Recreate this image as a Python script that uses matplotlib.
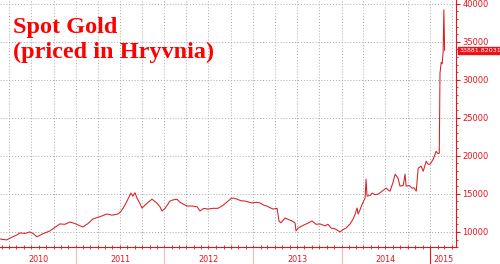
import matplotlib
matplotlib.use("Agg")
import matplotlib.pyplot as plt
import matplotlib.dates as mdates
import matplotlib.transforms as mtrans
import pandas as pd

dates = [
    "2010-02-22", "2010-03-06", "2010-03-22", "2010-04-12", "2010-05-03", "2010-05-15",
    "2010-06-05", "2010-06-25", "2010-07-12", "2010-07-24", "2010-08-14", "2010-09-16",
    "2010-10-07", "2010-10-27", "2010-11-17", "2010-12-08", "2010-12-28", "2011-01-18",
    "2011-01-30", "2011-02-20", "2011-03-12", "2011-04-10", "2011-05-09", "2011-05-30",
    "2011-06-24", "2011-07-06", "2011-07-15", "2011-07-27", "2011-08-08", "2011-08-16",
    "2011-08-24", "2011-09-02", "2011-09-10", "2011-09-18", "2011-10-01", "2011-10-13",
    "2011-10-26", "2011-11-11", "2011-11-23", "2011-12-01", "2011-12-14", "2011-12-22",
    "2012-01-04", "2012-01-24", "2012-02-05", "2012-02-22", "2012-03-05", "2012-03-22",
    "2012-04-03", "2012-04-24", "2012-05-15", "2012-05-27", "2012-06-12", "2012-06-29",
    "2012-07-20", "2012-08-09", "2012-08-30", "2012-09-20", "2012-10-02", "2012-10-14",
    "2012-10-27", "2012-11-12", "2012-11-29", "2012-12-15", "2012-12-27", "2013-01-13",
    "2013-01-30", "2013-02-15", "2013-02-27", "2013-03-12", "2013-03-24", "2013-04-10",
    "2013-04-18", "2013-04-26", "2013-05-13", "2013-05-29", "2013-06-11", "2013-06-23",
    "2013-06-27", "2013-07-06", "2013-07-22", "2013-08-12", "2013-09-01", "2013-09-18",
    "2013-10-04", "2013-10-25", "2013-11-06", "2013-11-19", "2013-12-05", "2013-12-18",
    "2013-12-26", "2014-01-07", "2014-01-20", "2014-02-05", "2014-02-18", "2014-02-26",
    "2014-03-06", "2014-03-10", "2014-03-18", "2014-03-27", "2014-04-08", "2014-04-12",
    "2014-04-16", "2014-04-29", "2014-05-07", "2014-05-19", "2014-06-01", "2014-06-17",
    "2014-07-04", "2014-07-12", "2014-07-20", "2014-08-01", "2014-08-10", "2014-08-22",
    "2014-08-30", "2014-09-12", "2014-09-20", "2014-09-24", "2014-10-07", "2014-10-19",
    "2014-10-27", "2014-11-05", "2014-11-13", "2014-11-25", "2014-12-04", "2014-12-16",
    "2014-12-24", "2015-01-01", "2015-01-14", "2015-01-26", "2015-02-03", "2015-02-08",
    "2015-02-11", "2015-02-16", "2015-02-20", "2015-02-24", "2015-02-27", "2015-03-02",
]
prices = [
    9080, 9000, 8950, 9300, 9600, 9870,
    9800, 10000, 9700, 9350, 9700, 10130,
    10600, 11050, 11000, 11300, 11100, 10800,
    10650, 11100, 11700, 12000, 12350, 12200,
    12350, 12700, 13140, 13800, 14600, 15100,
    14700, 15150, 14450, 14000, 13140, 13500,
    13900, 14300, 14000, 13800, 13300, 12750,
    13100, 14050, 14200, 14300, 13900, 13600,
    13400, 13400, 13300, 12750, 13100, 13000,
    13100, 13100, 13500, 14050, 14400, 14450,
    14300, 14100, 14050, 13900, 13800, 13900,
    13800, 13500, 13400, 13200, 13000, 13100,
    11400, 11200, 11830, 11600, 11440, 11180,
    10130, 10500, 10790, 11100, 11440, 11000,
    11050, 10790, 11000, 10500, 10400, 10150,
    10000, 10300, 10520, 11050, 11700, 12350,
    13140, 12350, 12900, 13660, 14450, 16940,
    14700, 14800, 15100, 14900, 14970, 15360,
    15760, 15500, 15360, 16500, 17590, 17070,
    16020, 16100, 17590, 16020, 16100, 15760,
    15800, 15360, 18380, 18640, 17980, 19290,
    18900, 18900, 19550, 20600, 20300, 20340,
    30900, 32300, 32100, 33700, 39200, 33881.82031,
]
last_label = "33881.82031"
years = ["2010", "2011", "2012", "2013", "2014", "2015"]
yticks = [10000, 15000, 20000, 25000, 30000, 35000, 40000]

RED = "#e8141b"
x = pd.to_datetime(dates)

fig = plt.figure(figsize=(5.0, 2.64), dpi=100)
ax = fig.add_axes([0.0, 0.064, 0.912, 0.936])
ax.plot(x, prices, color="#d81e24", lw=0.75, solid_joinstyle="round")

xmin = pd.Timestamp("2010-02-22")
xmax = pd.Timestamp("2015-04-18")
ax.set_xlim(xmin, xmax)
ax.set_ylim(8000, 40500)

for s in ["top", "left"]:
    ax.spines[s].set_visible(False)
for s in ["right", "bottom"]:
    ax.spines[s].set_color(RED)
    ax.spines[s].set_linewidth(0.8)

ax.yaxis.tick_right()
ax.set_yticks(yticks)
ax.set_yticklabels([str(v) for v in yticks])
ax.yaxis.set_minor_locator(matplotlib.ticker.MultipleLocator(1000))
ax.tick_params(axis="y", which="major", colors=RED, labelsize=6, length=3, width=0.8, pad=1.5)
ax.tick_params(axis="y", which="minor", colors=RED, length=1.5, width=0.6)

ax.xaxis.set_major_locator(mdates.MonthLocator(bymonth=[1, 4, 7, 10]))
ax.xaxis.set_minor_locator(mdates.MonthLocator())
ax.xaxis.set_major_formatter(matplotlib.ticker.NullFormatter())
ax.tick_params(axis="x", which="both", colors=RED, direction="inout", length=2.5, width=0.6)

ax.grid(True, which="major", color="#a8a8a8", linestyle=(0, (1, 2)), linewidth=0.7)

trans = mtrans.blended_transform_factory(ax.transData, ax.transAxes)
starts = [pd.Timestamp(f"{y}-01-01") for y in years]
for i, yr in enumerate(years):
    a = max(starts[i], xmin)
    b = min(pd.Timestamp(f"{int(yr)+1}-01-01"), xmax)
    mid = a + (b - a) / 2
    ax.text(mdates.date2num(mid), -0.05, yr, transform=trans, ha="center", va="center",
            color=RED, fontsize=5.8)
for i, s in enumerate(starts[1:]):
    col = RED if years[i + 1] == "2015" else "#f2b8ba"
    ax.plot([mdates.date2num(s)] * 2, [-0.07, 0.0], transform=trans, color=col,
            lw=0.8, clip_on=False)

ax.annotate(last_label, xy=(1.0, prices[-1]), xycoords=("axes fraction", "data"),
            xytext=(2.5, 0), textcoords="offset points", ha="left", va="center",
            color="white", fontsize=4.6,
            bbox=dict(boxstyle="square,pad=0.2", fc=RED, ec=RED),
            annotation_clip=False)

fig.text(0.026, 0.875, "Spot Gold", color="#ff0000", fontsize=17.5, fontweight="bold",
         family=["Liberation Serif", "DejaVu Serif"], ha="left", va="baseline")
fig.text(0.026, 0.78, "(priced in Hryvnia)", color="#ff0000", fontsize=17.5, fontweight="bold",
         family=["Liberation Serif", "DejaVu Serif"], ha="left", va="baseline")

fig.savefig("out.png", dpi=100, facecolor="white")
